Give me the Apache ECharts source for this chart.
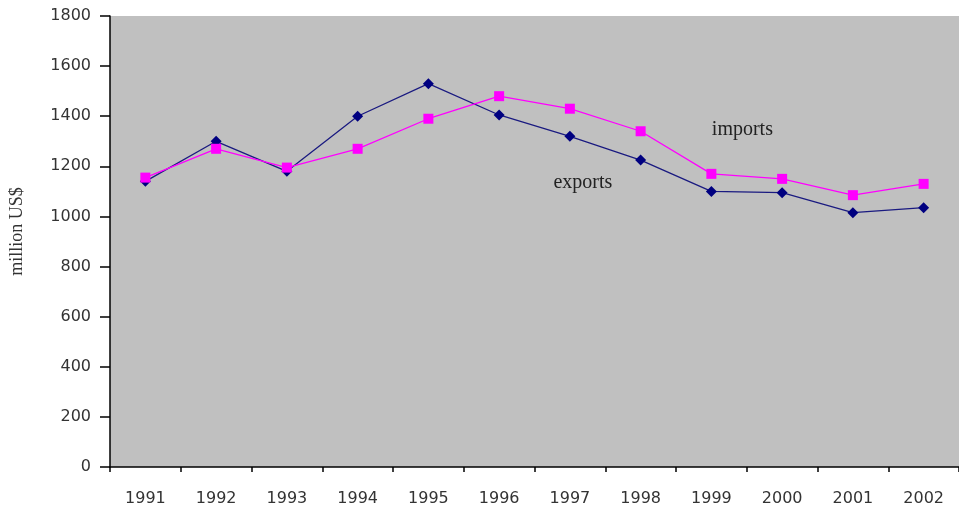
<!DOCTYPE html>
<html>
<head>
<meta charset="utf-8">
<script src="https://cdn.jsdelivr.net/npm/echarts@6/dist/echarts.min.js"></script>
<style>
  html, body { margin: 0; padding: 0; background: #fff; }
  #chart { width: 959px; height: 511px; }
</style>
</head>
<body>
<div id="chart"></div>
<script>
// Annual trade values, million US$
const years = ['1991','1992','1993','1994','1995','1996','1997','1998','1999','2000','2001','2002'];
const exportsValues = [1140, 1300, 1180, 1400, 1530, 1405, 1320, 1225, 1100, 1095, 1015, 1035];
const importsValues = [1155, 1270, 1195, 1270, 1390, 1480, 1430, 1340, 1170, 1150, 1085, 1130];
const yTicks = { min: 0, max: 1800, interval: 200 };

const chart = echarts.init(document.getElementById('chart'));
const axisFont = 'DejaVu Sans, Verdana, sans-serif';
const serif = 'Liberation Serif, Times New Roman, serif';

chart.setOption({
  animation: false,
  grid: { left: 110, right: 0, top: 16, bottom: 44, show: true, backgroundColor: '#C0C0C0', borderWidth: 0 },
  xAxis: {
    type: 'category',
    data: years,
    boundaryGap: true,
    axisLine: { lineStyle: { color: '#000', width: 1.5 } },
    axisTick: { show: true, length: 5, lineStyle: { color: '#000', width: 1.5 } },
    axisLabel: { color: '#333', fontFamily: axisFont, fontSize: 16, margin: 24 },
    splitLine: { show: false }
  },
  yAxis: {
    type: 'value',
    min: yTicks.min, max: yTicks.max, interval: yTicks.interval,
    name: 'million US$',
    nameLocation: 'middle',
    nameRotate: 90,
    nameGap: 84,
    nameTextStyle: { fontFamily: serif, fontSize: 18, color: '#333', padding: [0, 0, 0, 20] },
    axisLine: { show: true, lineStyle: { color: '#000', width: 1.5 } },
    axisTick: { show: true, inside: false, length: 10, lineStyle: { color: '#000', width: 1.5 } },
    axisLabel: { color: '#333', fontFamily: axisFont, fontSize: 16, margin: 19, formatter: (v) => String(v) },
    splitLine: { show: false }
  },
  series: [
    {
      name: 'exports',
      type: 'line',
      data: exportsValues,
      symbol: 'diamond',
      symbolSize: 11,
      itemStyle: { color: '#000080' },
      lineStyle: { color: '#1a1a80', width: 1.3 },
      z: 2,
      markPoint: {
        symbol: 'rect', symbolSize: 1,
        itemStyle: { color: 'rgba(0,0,0,0)' },
        label: { show: true, formatter: 'exports', color: '#222', fontFamily: serif, fontSize: 20, offset: [13, 0] },
        data: [{ coord: ['1997', 1135] }]
      }
    },
    {
      name: 'imports',
      type: 'line',
      data: importsValues,
      symbol: 'rect',
      symbolSize: 10,
      itemStyle: { color: '#FF00FF' },
      lineStyle: { color: '#FF00FF', width: 1.3 },
      z: 3,
      markPoint: {
        symbol: 'rect', symbolSize: 1,
        itemStyle: { color: 'rgba(0,0,0,0)' },
        label: { show: true, formatter: 'imports', color: '#222', fontFamily: serif, fontSize: 20, offset: [31, 0] },
        data: [{ coord: ['1999', 1345] }]
      }
    }
  ]
});
</script>
</body>
</html>
